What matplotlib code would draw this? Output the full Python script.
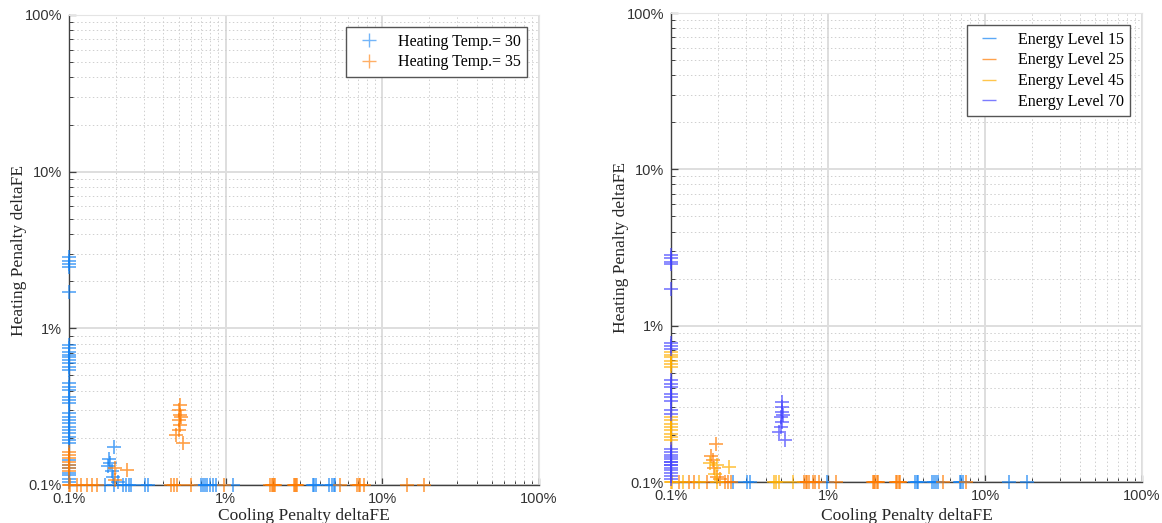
import matplotlib
matplotlib.use("Agg")
import matplotlib.pyplot as plt
from matplotlib.lines import Line2D
from matplotlib.ticker import LogLocator, FuncFormatter, NullFormatter
import numpy as np

# ---- data (percent values) -------------------------------------------------
# points on the cooling = 0.1 % column
col_heating = [2.84, 2.70, 2.57, 2.47, 1.71, 0.78, 0.745, 0.71, 0.676, 0.653,
               0.628, 0.598, 0.569, 0.542, 0.446, 0.424, 0.404, 0.366, 0.349,
               0.332, 0.287, 0.273, 0.26, 0.248, 0.236, 0.224, 0.214, 0.203,
               0.194, 0.185, 0.145, 0.135, 0.128, 0.12, 0.115, 0.11, 0.105,
               0.163, 0.155, 0.148, 0.141, 0.134, 0.128, 0.122]
col_temp = [30] * 37 + [35] * 7
col_level = [70, 70, 70, 70, 70, 70, 70, 70, 45, 45,
             45, 45, 45, 45, 70, 70, 70, 70, 70,
             70, 70, 70, 45, 45, 45, 45, 45, 45,
             45, 45, 70, 70, 70, 70, 70, 70, 70,
             70, 70, 70, 70, 70, 70, 70]

# scattered points off both axes
mid_cooling = [0.194, 0.181, 0.184, 0.197, 0.187, 0.235, 0.19, 0.197, 0.205, 0.178,
               0.51, 0.506, 0.51, 0.50, 0.51, 0.50, 0.485, 0.535, 0.52]
mid_heating = [0.176, 0.146, 0.138, 0.128, 0.122, 0.125, 0.113, 0.107, 0.105, 0.132,
               0.324, 0.301, 0.28, 0.26, 0.241, 0.224, 0.208, 0.185, 0.27]
mid_temp = [30, 30, 30, 35, 30, 35, 30, 35, 30, 30,
            35, 35, 35, 35, 35, 35, 35, 35, 35]
mid_level = [25, 25, 25, 45, 25, 45, 45, 25, 25, 45,
             70, 70, 70, 70, 70, 70, 70, 70, 70]

# points on the heating = 0.1 % row
row_cooling = [0.1, 0.102, 0.112, 0.12, 0.13, 0.14, 0.15, 0.17, 0.195, 0.22, 0.23,
               0.24, 0.25, 0.305, 0.32, 0.45, 0.465, 0.49, 0.6, 0.70, 0.72, 0.74,
               0.76, 0.8, 0.83, 0.87, 0.98, 1.12, 1.93, 1.97, 2.0, 2.04, 2.08,
               2.72, 2.77, 2.82, 2.87, 3.6, 3.68, 3.75, 4.6, 4.75, 4.9, 5.0,
               5.4, 6.9, 7.05, 7.2, 7.6, 14.3, 18.5]
row_temp = [35, 35, 35, 35, 35, 35, 35, 30, 30, 30, 30,
            30, 30, 30, 30, 35, 35, 35, 35, 30, 30, 30,
            30, 30, 30, 30, 35, 30, 35, 35, 35, 35, 35,
            35, 35, 35, 35, 30, 30, 30, 30, 30, 30, 30,
            35, 35, 35, 35, 35, 35, 35]
row_level = [45, 45, 25, 45, 25, 25, 45, 25, 45, 25, 25,
             25, 15, 15, 15, 45, 45, 45, 45, 25, 25, 25,
             25, 25, 25, 25, 15, 25, 25, 25, 25, 25, 25,
             25, 25, 25, 25, 15, 15, 15, 15, 15, 15, 15,
             25, 15, 15, 15, 25, 15, 15]

cooling = np.array([0.1] * len(col_heating) + mid_cooling + row_cooling)
heating = np.array(col_heating + mid_heating + [0.1] * len(row_cooling))
temp = np.array(col_temp + mid_temp + row_temp)
level = np.array(col_level + mid_level + row_level)

temps = [30, 35]
temp_colors = ["#1684f5", "#ff7b00"]
levels = [15, 25, 45, 70]
level_colors = ["#1684f5", "#ff7b00", "#ffae00", "#4444ff"]

# ---- figure -----------------------------------------------------------------
W, H = 1162, 523
fig = plt.figure(figsize=(W / 100, H / 100), dpi=100)
ax1 = fig.add_axes([69 / W, 1 - 485 / H, 470 / W, 470 / H])
ax2 = fig.add_axes([671 / W, 1 - 482 / H, 471 / W, 469 / H])

serif = "Liberation Serif"
sans = "Liberation Sans"
pct = FuncFormatter(lambda v, p: f"{v:g}%")


def style(ax):
    ax.set_xscale("log")
    ax.set_yscale("log")
    ax.set_xlim(0.1, 100)
    ax.set_ylim(0.1, 100)
    for a in (ax.xaxis, ax.yaxis):
        a.set_major_locator(LogLocator(base=10, numticks=10))
        a.set_minor_locator(LogLocator(base=10, subs=np.arange(2, 10), numticks=10))
        a.set_major_formatter(pct)
        a.set_minor_formatter(NullFormatter())
    ax.grid(which="major", color="#dedede", lw=1.4, ls="-")
    ax.grid(which="minor", color="#cfcfcf", lw=0.7, ls=(0, (1.5, 2.5)))
    ax.set_axisbelow(True)
    ax.tick_params(which="both", direction="in", colors="#404040",
                   labelcolor="#333333", labelsize=10.5)
    ax.tick_params(which="major", length=5, width=0.9)
    ax.tick_params(which="minor", length=3, width=0.7)
    ax.tick_params(axis="x", pad=5)
    ax.tick_params(axis="y", pad=5)
    for lab in ax.get_xticklabels() + ax.get_yticklabels():
        lab.set_fontfamily(sans)
    for s in ("top", "right"):
        ax.spines[s].set_color("#e4e4e4")
    for s in ("left", "bottom"):
        ax.spines[s].set_color("#404040")
        ax.spines[s].set_linewidth(1.0)
    ax.set_xlabel("Cooling Penalty deltaFE", fontfamily=serif, fontsize=12.5,
                  color="#262626")
    ax.set_ylabel("Heating Penalty deltaFE", fontfamily=serif, fontsize=12.5,
                  color="#262626")


style(ax1)
style(ax2)

mk = dict(marker="+", s=100, linewidths=1.2, alpha=0.72, clip_on=False, zorder=3)

# left: grouped by heating temperature
for t, c in zip(temps, temp_colors):
    m = temp == t
    ax1.scatter(cooling[m], heating[m], color=c, **mk)

# right: grouped by energy level
for lv, c in zip(levels, level_colors):
    m = level == lv
    ax2.scatter(cooling[m], heating[m], color=c, **mk)

leg_kw = dict(prop={"family": serif, "size": 11.5}, frameon=True, fancybox=False,
              edgecolor="#555555", framealpha=1, borderaxespad=0,
              handlelength=2.0, handletextpad=0.8, labelspacing=0.3,
              loc="upper right")

h1 = [Line2D([], [], ls="none", marker="+", ms=10, mew=1.0, color=c, alpha=0.6)
      for c in temp_colors]
lg1 = ax1.legend(h1, [f"Heating Temp.= {t}" for t in temps],
                 bbox_to_anchor=(0.974, 0.974), **leg_kw)
lg1.get_frame().set_linewidth(1.0)

h2 = [Line2D([], [], ls="none", marker="_", ms=10, mew=1.0, color=c, alpha=0.7)
      for c in level_colors]
lg2 = ax2.legend(h2, [f"Energy Level {lv}" for lv in levels],
                 bbox_to_anchor=(0.975, 0.974), **leg_kw)
lg2.get_frame().set_linewidth(1.0)

ax1.xaxis.set_label_coords(0.5, (485 - 508) / 470)
ax2.xaxis.set_label_coords(0.5, (482 - 508) / 469)
ax1.yaxis.set_label_coords((27 - 69) / 470, 0.5)
ax2.yaxis.set_label_coords((629 - 671) / 471, 0.5)

fig.savefig("out.png", dpi=100, facecolor="white")
